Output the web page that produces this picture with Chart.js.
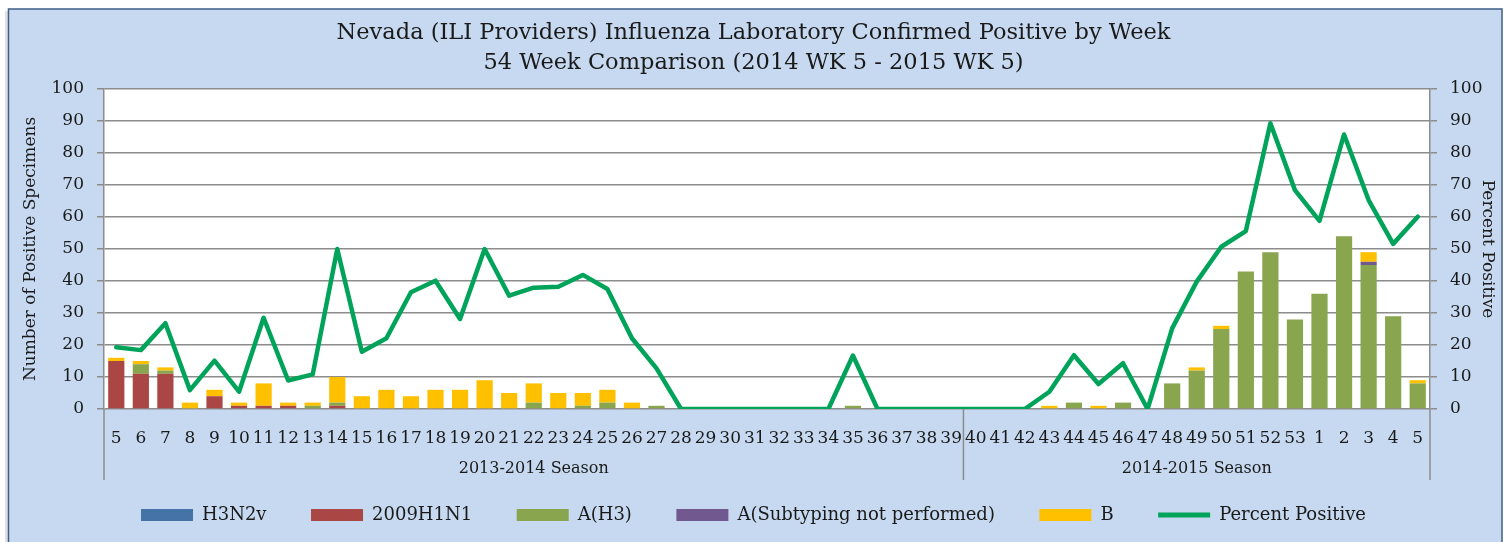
<!DOCTYPE html>
<html>
<head>
<meta charset="utf-8">
<script src="https://cdn.jsdelivr.net/npm/chart.js@4"></script>
<style>
html,body{margin:0;padding:0;background:#fff;}
#wrap{width:1507px;height:542px;position:relative;}
</style>
</head>
<body>
<div id="wrap"><canvas id="c"></canvas></div>
<script>
const weeks = ['5','6','7','8','9','10','11','12','13','14','15','16','17','18','19','20','21','22','23','24','25','26','27','28','29','30','31','32','33','34','35','36','37','38','39','40','41','42','43','44','45','46','47','48','49','50','51','52','53','1','2','3','4','5'];
const seasons = ['2013-2014 Season','2014-2015 Season'];
const seasonSplitIndex = 35; // first category of second season (week 40)
const titleLines = ['Nevada (ILI Providers) Influenza Laboratory Confirmed Positive by Week','54 Week Comparison (2014 WK 5 - 2015 WK 5)'];
const yTicks = [0,10,20,30,40,50,60,70,80,90,100];

const h3n2v = [0,0,0,0,0,0,0,0,0,0, 0,0,0,0,0,0,0,0,0,0, 0,0,0,0,0,0,0,0,0,0, 0,0,0,0,0,0,0,0,0,0, 0,0,0,0,0,0,0,0,0,0, 0,0,0,0];
const h1n1  = [15,11,11,0,4,1,1,1,0,1, 0,0,0,0,0,0,0,0,0,0, 0,0,0,0,0,0,0,0,0,0, 0,0,0,0,0,0,0,0,0,0, 0,0,0,0,0,0,0,0,0,0, 0,0,0,0];
const aH3   = [0,3,1,0,0,0,0,0,1,1, 0,0,0,0,0,0,0,2,0,1, 2,0,1,0,0,0,0,0,0,0, 1,0,0,0,0,0,0,0,0,2, 0,2,0,8,12,25,43,49,28,36, 54,45,29,8];
const aSub  = [0,0,0,0,0,0,0,0,0,0, 0,0,0,0,0,0,0,0,0,0, 0,0,0,0,0,0,0,0,0,0, 0,0,0,0,0,0,0,0,0,0, 0,0,0,0,0,0,0,0,0,0, 0,1,0,0];
const fluB  = [1,1,1,2,2,1,7,1,1,8, 4,6,4,6,6,9,5,6,5,4, 4,2,0,0,0,0,0,0,0,0, 0,0,0,0,0,0,0,0,1,0, 1,0,0,0,1,1,0,0,0,0, 0,3,0,1];
const pctPos = [19.3,18.4,26.8,5.9,15.1,5.4,28.5,8.9,10.8,50, 17.9,22.1,36.5,40.1,28.1,50,35.4,37.9,38.2,41.9, 37.5,22.1,12.7,0,0,0,0,0,0,0, 16.7,0,0,0,0,0,0,0,5.4,16.8, 7.8,14.3,0,25.2,39.8,50.7,55.6,89.3,68.4,58.8, 85.8,65.3,51.6,60.1];

const FONT = "'DejaVu Serif', serif";
const TXT = '#1a1a1a';
const GRID = '#8c8c8c';
const BG = '#c6d9f0';

const bgPlugin = {
  id: 'bgPlugin',
  beforeDraw(chart) {
    const ctx = chart.ctx, a = chart.chartArea;
    ctx.save();
    ctx.fillStyle = '#ffffff';
    ctx.fillRect(0, 0, chart.width, chart.height);
    ctx.fillStyle = 'rgba(0,0,0,0.12)';
    ctx.fillRect(5, 11, 4, chart.height);
    ctx.fillStyle = BG;
    ctx.fillRect(8, 9, 1494, chart.height);
    ctx.strokeStyle = '#3f5f87';
    ctx.lineWidth = 1.5;
    ctx.strokeRect(8.5, 9, 1493.5, chart.height + 5);
    ctx.fillStyle = '#ffffff';
    ctx.fillRect(a.left, a.top, a.right - a.left, a.bottom - a.top);
    ctx.restore();
  },
  afterDraw(chart) {
    const ctx = chart.ctx, a = chart.chartArea, xs = chart.scales.x;
    const split = (xs.getPixelForValue(seasonSplitIndex - 1) + xs.getPixelForValue(seasonSplitIndex)) / 2;
    const yEnd = 480;
    ctx.save();
    ctx.strokeStyle = GRID;
    ctx.lineWidth = 1.5;
    [a.left, split, a.right].forEach(x => {
      ctx.beginPath();
      ctx.moveTo(x, a.bottom);
      ctx.lineTo(x, yEnd);
      ctx.stroke();
    });
    ctx.fillStyle = TXT;
    ctx.font = "16px " + FONT;
    ctx.textAlign = 'center';
    ctx.textBaseline = 'middle';
    ctx.fillText(seasons[0], (a.left + split) / 2, 468.5);
    ctx.fillText(seasons[1], (split + a.right) / 2, 468.5);
    ctx.restore();
  }
};

const ctx = document.getElementById('c');
new Chart(ctx, {
  data: {
    labels: weeks,
    datasets: [
      {type:'bar', label:'H3N2v', data:h3n2v, backgroundColor:'#4572a7', yAxisID:'y', order:1},
      {type:'bar', label:'2009H1N1', data:h1n1, backgroundColor:'#aa4643', yAxisID:'y', order:1},
      {type:'bar', label:'A(H3)', data:aH3, backgroundColor:'#89a54e', yAxisID:'y', order:1},
      {type:'bar', label:'A(Subtyping not performed)', data:aSub, backgroundColor:'#71588f', yAxisID:'y', order:1},
      {type:'bar', label:'B', data:fluB, backgroundColor:'#ffc000', yAxisID:'y', order:1},
      {type:'line', label:'Percent Positive', data:pctPos, borderColor:'#00a35a', backgroundColor:'#00a35a', borderWidth:4.5, pointRadius:0, tension:0, borderJoinStyle:'round', borderCapStyle:'round', yAxisID:'y1', order:0}
    ]
  },
  options: {
    responsive: true,
    maintainAspectRatio: false,
    animation: false,
    layout: { padding: { left: 8, right: 8, top: 0, bottom: 8 } },
    datasets: { bar: { categoryPercentage: 1.0, barPercentage: 0.66, borderWidth: 0 } },
    plugins: {
      tooltip: { enabled: false },
      title: {
        display: true,
        text: titleLines,
        color: TXT,
        font: { family: FONT, size: 22.5, weight: 'normal', lineHeight: 1.3 },
        padding: { top: 19, bottom: 11.5 }
      },
      legend: {
        position: 'bottom',
        labels: {
          color: TXT,
          font: { family: FONT, size: 18 },
          usePointStyle: true,
          pointStyleWidth: 52,
          boxHeight: 12,
          padding: 44.5,
          sort: (a, b) => a.datasetIndex - b.datasetIndex,
          generateLabels(chart) {
            const items = Chart.defaults.plugins.legend.labels.generateLabels(chart);
            items.forEach(it => {
              const ds = chart.data.datasets[it.datasetIndex];
              if (ds.type === 'line') {
                it.pointStyle = 'line';
                it.lineWidth = 5;
                it.strokeStyle = ds.borderColor;
              } else {
                it.pointStyle = 'rect';
                it.lineWidth = 0;
                it.strokeStyle = 'rgba(0,0,0,0)';
              }
            });
            return items;
          }
        }
      }
    },
    scales: {
      x: {
        stacked: true,
        grid: { display: false, drawTicks: false },
        border: { display: false },
        ticks: { color: TXT, font: { family: FONT, size: 17 }, autoSkip: false, maxRotation: 0, minRotation: 0, padding: 19 },
        afterFit(s) { s.height = 52.5; }
      },
      y: {
        stacked: true,
        position: 'left',
        min: 0, max: 100,
        afterBuildTicks(s) { s.ticks = yTicks.map(v => ({ value: v })); },
        grid: { color: GRID, lineWidth: 1.5, tickLength: 7 },
        border: { color: GRID, width: 1.5 },
        ticks: { color: TXT, font: { family: FONT, size: 17 }, padding: 13 },
        title: { display: true, text: 'Number of Positive Specimens', color: TXT, font: { family: FONT, size: 17 }, padding: { top: 12, bottom: 0 } },
        afterFit(s) { s.width = 96; }
      },
      y1: {
        position: 'right',
        min: 0, max: 100,
        afterBuildTicks(s) { s.ticks = yTicks.map(v => ({ value: v })); },
        grid: { drawOnChartArea: false, color: GRID, lineWidth: 1.5, tickLength: 7 },
        border: { color: GRID, width: 1.5 },
        ticks: { color: TXT, font: { family: FONT, size: 17 }, padding: 13 },
        title: { display: true, text: 'Percent Positive', color: TXT, font: { family: FONT, size: 17 }, padding: { top: 1, bottom: 0 } },
        afterFit(s) { s.width = 69; }
      }
    }
  },
  plugins: [bgPlugin]
});
</script>
</body>
</html>
